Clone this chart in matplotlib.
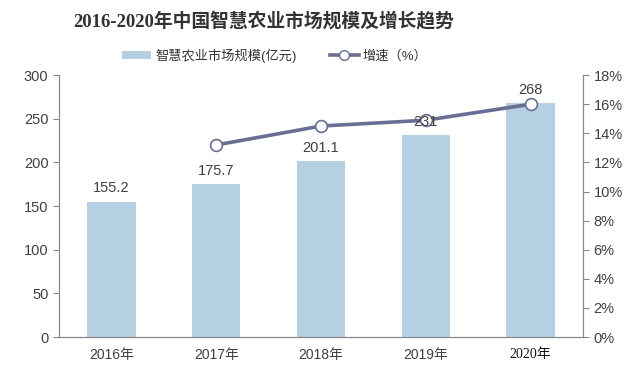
import matplotlib
matplotlib.use('Agg')
import matplotlib.pyplot as plt
from matplotlib.lines import Line2D
from matplotlib.patches import Patch

plt.rcParams['font.family'] = ['Liberation Sans', 'Noto Sans CJK SC', 'DejaVu Sans']

# data
years = ['2016年', '2017年', '2018年', '2019年', '2020年']
market = [155.2, 175.7, 201.1, 231, 268]        # 亿元
growth_years = ['2017年', '2018年', '2019年', '2020年']
growth = [13.2, 14.5, 14.9, 16.0]               # %

bar_color = '#b5d0e2'
line_color = '#6a6e93'
txt = '#404040'

fig = plt.figure(figsize=(6.25, 3.7), dpi=100)
ax = fig.add_axes([0.0944, 0.089, 0.8384, 0.708])
ax2 = ax.twinx()

x = list(range(len(years)))
ax.bar(x, market, width=0.46, color=bar_color, zorder=2)

gx = [years.index(y) for y in growth_years]
ax2.plot(gx, growth, color=line_color, lw=2.6, marker='o', markersize=8.5,
         markerfacecolor='white', markeredgecolor=line_color, markeredgewidth=1.2,
         zorder=3)

# value labels drawn on top of the line
for xi, v in zip(x, market):
    ax2.text(xi, v + 7, f'{v:g}', ha='center', va='bottom', fontsize=10.5,
             color=txt, transform=ax.transData, zorder=5)

ax.set_xlim(-0.5, 4.5)
ax.set_ylim(0, 300)
ax.set_yticks(range(0, 301, 50))
ax2.set_ylim(0, 18)
ax2.set_yticks(range(0, 19, 2))
ax2.set_yticklabels([f'{t}%' for t in range(0, 19, 2)])

ax.set_xticks(x)
ax.set_xticklabels(years)
ax.tick_params(axis='x', length=0, pad=8, labelsize=10, labelcolor=txt)
ax.tick_params(axis='y', length=4, direction='out', labelsize=10.5, labelcolor=txt, color='#888888')
ax2.tick_params(axis='y', length=4, direction='out', labelsize=10.5, labelcolor=txt, color='#888888')
lbl = ax.get_xticklabels()[-1]
lbl.set_fontfamily(['Liberation Serif', 'Noto Sans CJK SC'])
lbl.set_color('#111111')

for a in (ax, ax2):
    a.spines['top'].set_visible(False)
    for s in ('left', 'right', 'bottom'):
        a.spines[s].set_color('#888888')
        a.spines[s].set_linewidth(0.8)
ax.set_zorder(ax2.get_zorder() - 1)
ax.patch.set_visible(False)

fig.text(0.422, 0.94, '2016-2020年中国智慧农业市场规模及增长趋势', ha='center', va='center',
         fontsize=13.5, fontweight='bold', color='#333333',
         family=['Liberation Serif', 'Noto Sans CJK SC'])

handles = [Patch(facecolor=bar_color, edgecolor='none'),
           Line2D([0], [0], color=line_color, lw=2.6, marker='o', markersize=7,
                  markerfacecolor='white', markeredgecolor=line_color)]
fig.legend(handles, ['智慧农业市场规模(亿元)', '增速（%）'], loc='center',
           bbox_to_anchor=(0.44, 0.85), ncol=2, frameon=False, fontsize=9.5,
           handlelength=2.2, handleheight=0.6, columnspacing=2.5, handletextpad=0.3,
           labelcolor='#333333')

fig.savefig('out.png', dpi=100, facecolor='white')
